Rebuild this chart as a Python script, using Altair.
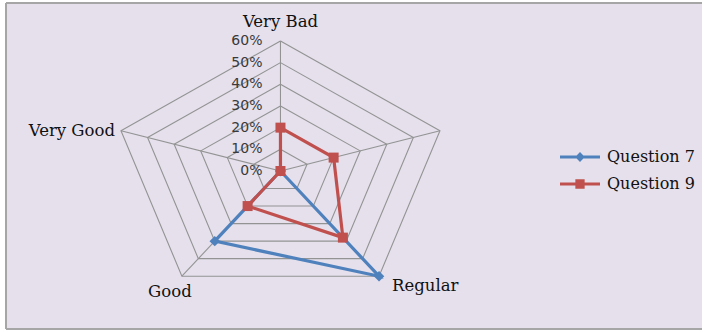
import math
import altair as alt
import pandas as pd

# ---- data ----
categories = ["Very Bad", "Bad", "Regular", "Good", "Very Good"]
series_names = ["Question 7", "Question 9"]
q7_values = [0, 0, 60, 40, 0]
q9_values = [20, 20, 38, 20, 0]
grid_levels = [10, 20, 30, 40, 50, 60]
tick_values = [0, 10, 20, 30, 40, 50, 60]
tick_labels = ["0%", "10%", "20%", "30%", "40%", "50%", "60%"]
colors = ["#4F81BD", "#C0504D"]

n = len(categories)
rmax = max(grid_levels)


def polar(r, i):
    a = 2 * math.pi * i / n
    return r * math.sin(a), r * math.cos(a)


# series lines (closed) and markers
line_rows, pt_rows = [], []
for s, vals in zip(series_names, [q7_values, q9_values]):
    for k in range(n + 1):
        i = k % n
        x, y = polar(vals[i], i)
        line_rows.append({"series": s, "ord": k, "x": x, "y": y})
        if k < n:
            pt_rows.append({"series": s, "cat": categories[i], "x": x, "y": y})
lines_df = pd.DataFrame(line_rows)
pts_df = pd.DataFrame(pt_rows)

# grid pentagons
grid_rows = []
for lv in grid_levels:
    for k in range(n + 1):
        x, y = polar(lv, k % n)
        grid_rows.append({"level": lv, "ord": k, "x": x, "y": y})
grid_df = pd.DataFrame(grid_rows)

# spokes
spoke_rows = []
for i, c in enumerate(categories):
    x2, y2 = polar(rmax, i)
    spoke_rows.append({"cat": c, "x": 0.0, "y": 0.0, "x2": x2, "y2": y2})
spoke_df = pd.DataFrame(spoke_rows)

# category label anchors (outer vertex)
lab_rows = []
for i, c in enumerate(categories):
    x, y = polar(rmax, i)
    lab_rows.append({"cat": c, "x": x, "y": y})
lab_df = pd.DataFrame(lab_rows)

tick_df = pd.DataFrame({"v": tick_values, "label": tick_labels, "x": [0.0] * len(tick_values)})

# ---- scales ----
W, H = 696, 326
xs = alt.Scale(domain=[-98.2, -98.2 + W / 2.795], nice=False, zero=False)
ys = alt.Scale(domain=[-72.9, 77.5], nice=False, zero=False)
X = lambda f="x": alt.X(f"{f}:Q", scale=xs, axis=None)
Y = lambda f="y": alt.Y(f"{f}:Q", scale=ys, axis=None)

# frame (left, top, bottom edges only)
FRAME = "#A6A6A6"
frame = [
    alt.Chart(tick_df).mark_rule(stroke=FRAME, strokeWidth=2).encode(
        x=alt.value(0), y=alt.value(0), y2=alt.value(H)),
    alt.Chart(tick_df).mark_rule(stroke=FRAME, strokeWidth=2).encode(
        x=alt.value(0), x2=alt.value(W), y=alt.value(0)),
    alt.Chart(tick_df).mark_rule(stroke=FRAME, strokeWidth=2).encode(
        x=alt.value(0), x2=alt.value(W), y=alt.value(H)),
]

GRID = "#939393"
grid = alt.Chart(grid_df).mark_line(stroke=GRID, strokeWidth=1.1).encode(
    x=X(), y=Y(), order="ord:Q", detail="level:N"
)
spokes = alt.Chart(spoke_df).mark_rule(stroke=GRID, strokeWidth=1.1).encode(
    x=X(), y=Y(), x2="x2:Q", y2="y2:Q"
)

color_scale = alt.Scale(domain=series_names, range=colors)

lines = alt.Chart(lines_df).mark_line(strokeWidth=3.2).encode(
    x=X(), y=Y(), order="ord:Q",
    color=alt.Color("series:N", scale=color_scale, legend=None),
)

markers = alt.Chart(pts_df).mark_point(filled=True, opacity=1).encode(
    x=X(), y=Y(),
    color=alt.Color("series:N", scale=color_scale, legend=None),
    shape=alt.Shape("series:N", scale=alt.Scale(domain=series_names, range=["diamond", "square"]), legend=None),
    size=alt.Size("series:N", scale=alt.Scale(domain=series_names, range=[110, 100]), legend=None),
)

# legend symbols: line with marker
legend_paths = [
    "M-2.5,-0.2L-0.42,-0.2L0,-0.62L0.42,-0.2L2.5,-0.2L2.5,0.2"
    "L0.42,0.2L0,0.62L-0.42,0.2L-2.5,0.2Z",
    "M-2.5,-0.2L-0.58,-0.2L-0.58,-0.58L0.58,-0.58L0.58,-0.2L2.5,-0.2"
    "L2.5,0.2L0.58,0.2L0.58,0.58L-0.58,0.58L-0.58,0.2L-2.5,0.2Z",
]


def legend_layer(idx, ly):
    name = series_names[idx]
    return alt.Chart(pts_df).transform_filter(alt.datum.series == name).mark_point(
        filled=True, opacity=0, color=colors[idx]
    ).encode(
        x=X(), y=Y(),
        shape=alt.Shape(
            "series:N",
            scale=alt.Scale(domain=[name], range=[legend_paths[idx]]),
            legend=alt.Legend(
                title=None, orient="none", legendX=566, legendY=ly,
                symbolSize=256, symbolStrokeWidth=0, symbolOpacity=1,
                symbolFillColor=colors[idx],
                labelFont="DejaVu Serif", labelFontSize=16, labelColor="#111111",
                labelOffset=19, labelLimit=200,
            ),
        ),
    )


ticks = alt.Chart(tick_df).mark_text(
    align="right", baseline="middle", dx=-18, font="DejaVu Sans", fontSize=14, color="#3a3a3a"
).encode(x=X(), y=Y("v"), text="label:N")


def cat_label(cat, align, dx, dy):
    return alt.Chart(lab_df).transform_filter(alt.datum.cat == cat).mark_text(
        align=align, baseline="middle", dx=dx, dy=dy,
        font="DejaVu Serif", fontSize=16.5, color="#111111"
    ).encode(x=X(), y=Y(), text="cat:N")


labels = [
    cat_label("Very Bad", "center", 0, -19),
    cat_label("Regular", "left", 13, 10),
    cat_label("Good", "center", -12, 16),
    cat_label("Very Good", "right", -6, 0),
]

chart = alt.layer(
    *frame, grid, spokes, ticks, lines, markers, legend_layer(0, 146), legend_layer(1, 173), *labels
).resolve_scale(shape="independent").resolve_legend(shape="independent").properties(
    width=W, height=H, background="#FFFFFF", autosize="none",
    padding={"left": 6, "top": 3, "right": 0, "bottom": 2},
).configure_view(fill="#E5E0EC", stroke=None)

chart.save("out.html", embed_options={"renderer": "svg", "actions": False})
